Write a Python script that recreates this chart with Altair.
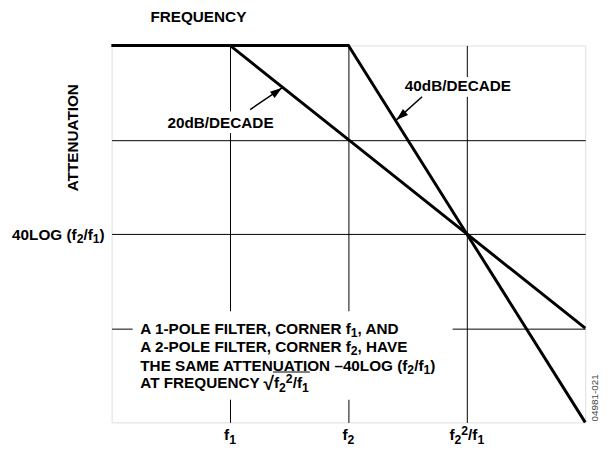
import altair as alt
import pandas as pd

FONT = "Liberation Sans"
WIDTH, HEIGHT = 480, 382
FS = 15.5        # main font size
SUB = 0.8        # relative size of sub/superscripts
ROOT = 1.25      # relative size of the radical sign

# Frequency axis in log units: 0 = left edge, 1 = f1, 2 = f2, 3 = f2^2/f1, 4 = right edge
freq_points = [0, 1, 2, 3, 4]
one_pole_atten = [0, 0, -1, -2, -3]
two_pole_atten = [0, 0, 0, -2, -4]

# "_x" = subscript x, "^x" = superscript x
x_tick_values = [1, 2, 3]
x_tick_labels = ["f_1", "f_2", "f_2^2/f_1"]
y_grid_values = [-1, -2, -3]
y_label_value = -2
y_label_text = "40LOG (f_2/f_1)"

x_title = "FREQUENCY"
y_title = "ATTENUATION"

slope_texts = ["20dB/DECADE", "40dB/DECADE"]
slope_x = [0.92, 2.925]
slope_y = [-0.82, -0.42]

arrow_x = [1.17, 2.622]
arrow_y = [-0.68, -0.545]
arrow_x2 = [1.44, 2.405]
arrow_y2 = [-0.45, -0.79]
arrow_angle = [54, 229]

note_lines = [
    "A 1-POLE FILTER, CORNER f_1, AND",
    "A 2-POLE FILTER, CORNER f_2, HAVE",
    "THE SAME ATTENUATION –40LOG (f_2/f_1)",
    "AT FREQUENCY √f_2^2/f_1",
]
note_x = 0.242
note_y = [-3.005, -3.194, -3.393, -3.581]
root_sign = "√"

# white masks that interrupt grid lines behind the labels
mask_x = [0.178, 0.9, 2.88]
mask_x2 = [2.88, 1.1, 3.1]
mask_y = [-2.82, -0.70, -0.335]
mask_y2 = [-3.76, -0.93, -0.545]

fig_id = ["04981-021"]
fig_id_x = [4.079]
fig_id_y = [-3.74]

# ------------------------------------------------------------------ text layout helpers
PX_X = WIDTH / 4.0
PX_Y = HEIGHT / 4.0
ARIAL_BOLD = {
    " ": 278, "(": 333, ")": 333, ",": 278, "-": 333, "/": 278, "–": 556, "√": 549,
    "A": 722, "B": 722, "C": 722, "D": 722, "E": 667, "F": 611, "G": 778, "H": 722,
    "I": 278, "L": 611, "M": 833, "N": 722, "O": 778, "P": 667, "Q": 778, "R": 722,
    "S": 667, "T": 611, "U": 722, "V": 667, "Y": 667, "d": 611, "f": 333,
}
KERN = {"AT": -74, "TA": -74, "LT": -74, "A ": -55, " A": -55, "T ": -18, " T": -18,
        "Y ": -18, " Y": -18, "RT": -18, "RY": -37, "AY": -74, "F,": -110}
CAP = 0.716 * FS / 2.0   # half cap height: baseline offset of a vertically centred line


def text_w(t, size):
    units = sum(ARIAL_BOLD.get(c, 556) for c in t)
    units += sum(KERN.get(t[i:i + 2], 0) for i in range(len(t) - 1))
    return units * size / 1000.0


def parse(markup):
    segs, buf, i = [], "", 0
    while i < len(markup):
        c = markup[i]
        if (c in "_^" and i + 1 < len(markup)) or c == root_sign:
            if buf:
                segs.append((buf, ""))
                buf = ""
            if c == root_sign:
                segs.append((c, "root"))
                i += 1
            else:
                segs.append((markup[i + 1], "sub" if c == "_" else "sup"))
                i += 2
        else:
            buf += c
            i += 1
    if buf:
        segs.append((buf, ""))
    return segs


def layout(markup, ax, ay, align="left", dx_px=0.0, dy_px=0.0, fs=FS):
    """Split a label into text pieces; ax/ay in data units, (dx_px, dy_px) pixel
    nudges of the baseline.  Returns rows, total width and per-piece start px."""
    segs = parse(markup)
    rel = {"": 1.0, "sub": SUB, "sup": SUB, "root": ROOT}
    sizes = [fs * rel[k] for _, k in segs]
    widths = [text_w(t, s) for (t, _), s in zip(segs, sizes)]
    total = sum(widths)
    x = {"left": 0.0, "center": -total / 2.0, "right": -total}[align] + dx_px
    rows, starts = [], []
    for (t, k), s, w in zip(segs, sizes, widths):
        shift = {"": 0.0, "sub": fs * 0.22, "sup": -fs * 0.36, "root": fs * 0.1}[k]
        rows.append(
            {"text": t, "x": ax + x / PX_X, "y": ay - (dy_px + shift) / PX_Y, "fs": s}
        )
        starts.append((k, x, w))
        x += w
    return rows, total, starts


text_rows = []
for v, lab in zip(x_tick_values, x_tick_labels):
    text_rows += layout(lab, v, -4, align="center", dy_px=18.3)[0]
text_rows += layout(y_label_text, 0, y_label_value, align="right", dx_px=-7, dy_px=6)[0]
text_rows += layout(x_title, 0.733, 0, align="center", dy_px=-23.7)[0]
for t, sx, sy in zip(slope_texts, slope_x, slope_y):
    text_rows += layout(t, sx, sy, align="center", dy_px=CAP)[0]
overline = None
for line, ny in zip(note_lines, note_y):
    rows, total, starts = layout(line, note_x, ny, dy_px=CAP)
    text_rows += rows
    for k, sx, w in starts:
        if k == "root":
            overline = {
                "x": note_x + (sx + w - 1.0) / PX_X,
                "x2": note_x + (total + 1.0) / PX_X,
                "y": ny - (CAP - FS * 1.07) / PX_Y,
            }

text_df = pd.DataFrame(text_rows)
root_df = pd.DataFrame([overline])

lines_df = pd.DataFrame(
    {
        "f": freq_points + freq_points,
        "a": one_pole_atten + two_pole_atten,
        "series": ["1-pole"] * len(freq_points) + ["2-pole"] * len(freq_points),
        "order": list(range(len(freq_points))) * 2,
    }
)
arrow_df = pd.DataFrame(
    {"x": arrow_x, "y": arrow_y, "x2": arrow_x2, "y2": arrow_y2, "angle": arrow_angle}
)
mask_df = pd.DataFrame({"x": mask_x, "x2": mask_x2, "y": mask_y, "y2": mask_y2})
id_df = pd.DataFrame({"text": fig_id, "x": fig_id_x, "y": fig_id_y})

x_scale = alt.Scale(domain=[0, 4], nice=False, zero=False)
y_scale = alt.Scale(domain=[-4, 0], nice=False, zero=False)

x_axis = alt.Axis(
    values=x_tick_values,
    labels=False,
    grid=True,
    gridColor="black",
    gridWidth=1,
    gridOpacity=1,
    ticks=False,
    domain=False,
    title=None,
)
y_axis = alt.Axis(
    values=y_grid_values,
    labels=False,
    grid=True,
    gridColor="black",
    gridWidth=1,
    gridOpacity=1,
    ticks=False,
    domain=False,
    title=y_title,
    titleFont=FONT,
    titleFontSize=FS,
    titleFontWeight="bold",
    titleColor="black",
    titleAngle=270,
    titleX=-40,
    titleY=93,
    titleAlign="center",
    titleBaseline="middle",
)


def X(f):
    return alt.X(f, type="quantitative", scale=x_scale, axis=x_axis)


def Y(f):
    return alt.Y(f, type="quantitative", scale=y_scale, axis=y_axis)


masks = alt.Chart(mask_df).mark_rect(color="white").encode(
    x=X("x"), x2="x2", y=Y("y"), y2="y2"
)

lines = alt.Chart(lines_df).mark_line(
    color="black", strokeWidth=3, strokeJoin="miter"
).encode(x=X("f"), y=Y("a"), detail="series:N", order="order:Q")

shafts = alt.Chart(arrow_df).mark_rule(color="black", strokeWidth=1.5).encode(
    x=X("x"), y=Y("y"), x2="x2", y2="y2"
)
heads = alt.Chart(arrow_df).mark_point(
    shape="M0,0L0.32,1L-0.32,1Z", filled=True, color="black", opacity=1, size=600
).encode(x=X("x2"), y=Y("y2"), angle=alt.Angle("angle:Q", scale=None))

texts = alt.Chart(text_df).mark_text(
    font=FONT, fontWeight="bold", color="black", align="left", baseline="alphabetic"
).encode(x=X("x"), y=Y("y"), text="text:N", size=alt.Size("fs:Q", scale=None))

root_bar = alt.Chart(root_df).mark_rule(color="black", strokeWidth=1.2).encode(
    x=X("x"), x2="x2", y=Y("y")
)

id_text = alt.Chart(id_df).mark_text(
    font=FONT, fontSize=10, color="#444444", angle=270, align="center", baseline="middle"
).encode(x=X("x"), y=Y("y"), text="text:N")

chart = (
    alt.layer(masks, lines, shafts, heads, texts, root_bar, id_text)
    .properties(
        width=WIDTH,
        height=HEIGHT,
        autosize=alt.AutoSizeParams(type="none"),
        padding={"left": 105, "top": 35, "right": 17, "bottom": 24},
    )
    .configure_view(stroke="black", strokeWidth=2)
    .configure(background="white")
)

chart.save("out.html", embed_options={"renderer": "svg", "actions": False})
